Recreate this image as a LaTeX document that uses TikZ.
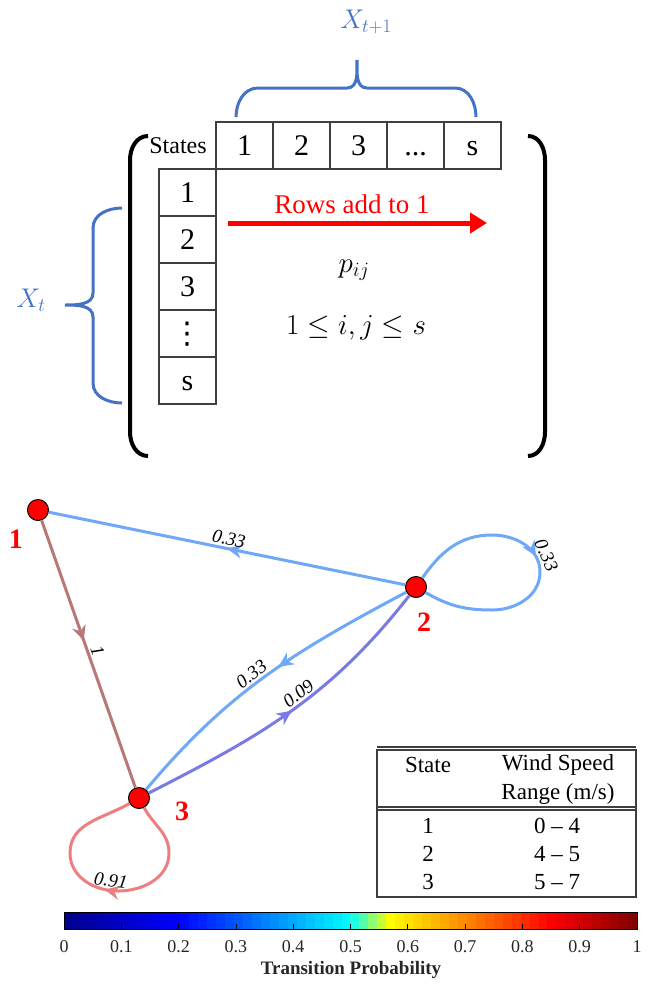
\RequirePackage{fix-cm}
\documentclass[tikz,border=0pt]{standalone}
\usepackage{fontspec}
\setmainfont{Liberation Serif}
\newfontfamily\dotsfont{DejaVu Sans}
\usetikzlibrary{arrows.meta,positioning,decorations.markings}
\definecolor{braceblue}{HTML}{4472C4}
\definecolor{cellgray}{HTML}{3F3F3F}
\definecolor{prob33}{HTML}{6EA8F6}
\definecolor{prob09}{HTML}{7A7AE4}
\definecolor{probone}{HTML}{B87878}
\definecolor{prob91}{HTML}{EC8080}
\definecolor{axisgray}{HTML}{262626}
\tikzset{
  >=Stealth,
  cell/.style={
    rectangle, draw=cellgray, line width=1.3pt, inner sep=0pt, outer sep=0pt,
    minimum width=57pt, minimum height=47pt, text height=20pt, text depth=0pt,
    font=\fontsize{30}{34}\selectfont
  },
  hdrtext/.style={font=\fontsize{24}{28}\selectfont, inner sep=0pt},
  bluelbl/.style={text=braceblue, font=\fontsize{27}{30}\selectfont},
  bluebrace/.style={draw=braceblue, line width=3pt},
  bracket/.style={draw=black, line width=4pt},
  rowarrow/.style={-{Triangle[length=17pt,width=20pt]}, line width=5pt, draw=red},
  rowtext/.style={text=red, font=\fontsize{27}{30}\selectfont},
  mathtext/.style={font=\fontsize{29}{32}\selectfont},
  state/.style={circle, fill=red, draw=black, line width=1pt, minimum size=21pt, inner sep=0pt},
  statelbl/.style={text=red, font=\fontsize{28}{30}\selectfont\bfseries, inner sep=0pt},
  edge/.style={line width=3pt},
  midarrow/.style={postaction={decorate}, decoration={markings,
    mark=at position #1 with {\arrow{Stealth[length=15pt,width=14pt,inset=5pt]}}}},
  problbl/.style={font=\fontsize{19}{21}\selectfont\itshape, text=black, inner sep=2pt},
  tblline/.style={draw=cellgray, line width=1.5pt},
  tbltext/.style={font=\fontsize{23}{29}\selectfont, align=center, inner sep=0pt},
  ticklbl/.style={font=\fontsize{18}{20}\selectfont, text=axisgray, inner sep=0pt}
}

\begin{document}
\begin{tikzpicture}[x=1pt,y=1pt]
\useasboundingbox (0,0) rectangle (657,-986);
% transition matrix
\node[cell] (h1) at (244.5,-145.5) {1};
\node[cell, right=0pt of h1] (h2) {2};
\node[cell, right=0pt of h2] (h3) {3};
\node[cell, right=0pt of h3] (h4) {...};
\node[cell, right=0pt of h4] (h5) {s};
\node[cell, below left=0pt and 0pt of h1] (r1) {1};
\node[cell, below=0pt of r1] (r2) {2};
\node[cell, below=0pt of r2] (r3) {3};
\node[cell, below=0pt of r3] (r4) {\dotsfont ⋮};
\node[cell, below=0pt of r4] (r5) {s};
\node[hdrtext] (states) at (178,-146) {States};
\draw[bracket] (148,-136) to[out=180,in=90] (130,-160) -- (130,-432) to[out=-90,in=180] (148,-456);
\draw[bracket] (528,-136) to[out=0,in=90] (545,-160) -- (545,-432) to[out=-90,in=0] (528,-456);
\draw[bluebrace] (236,-117) to[out=90,in=180] (258,-88) -- (347,-88) to[out=0,in=-90] (357,-60)
  to[out=-90,in=180] (367,-88) -- (455,-88) to[out=0,in=90] (476,-117);
\node[bluelbl] (xnext) at (366,-22) {$X_{t+1}$};
\draw[bluebrace] (122,-208) to[out=180,in=90] (93,-228) -- (93,-293) to[out=-90,in=0] (65,-305)
  to[out=0,in=90] (93,-317) -- (93,-383) to[out=-90,in=180] (122,-403);
\node[bluelbl] (xnow) at (31,-300) {$X_t$};
\coordinate (rowsA) at (228,-223);
\coordinate (rowsB) at (487,-223);
\draw[rowarrow] (rowsA) -- (rowsB);
\node[rowtext] (rowslbl) at (352,-204) {Rows add to 1};
\node[mathtext] (pij) at (354,-270) {$p_{ij}$};
\node[mathtext] (bounds) at (356,-328) {$1\le i,j\le s$};

% Markov chain graph
\node[state] (s1) at (38,-510) {};
\node[state] (s2) at (416,-587) {};
\node[state] (s3) at (139,-798) {};
\node[statelbl] (l1) at (16,-539) {1};
\node[statelbl] (l2) at (424,-622) {2};
\node[statelbl] (l3) at (182,-811) {3};
\draw[edge, prob33, midarrow=0.5] (s2) -- node[problbl, sloped, above] {0.33} (s1);
\draw[edge, probone, midarrow=0.45] (s1) -- node[problbl, sloped, above] {1} (s3);
\draw[edge, prob33, midarrow=0.45] (s2) to[out=208,in=50] node[problbl, sloped, above, pos=0.53] {0.33} (s3);
\draw[edge, prob09, midarrow=0.5] (s3) to[out=27,in=232] node[problbl, sloped, above, pos=0.55] {0.09} (s2);
\draw[edge, prob33, midarrow=0.47] (s2.55) to[out=55,in=180] ([shift={(76,52)}]s2.center)
  to[out=0,in=90] node[problbl, sloped, above, pos=0.8] {0.33} ([shift={(124,15)}]s2.center)
  to[out=-90,in=0] ([shift={(76,-23)}]s2.center) to[out=180,in=-30] (s2.-30);
\draw[edge, prob91, midarrow=0.5] (s3.-62) to[out=-62,in=90] ([shift={(30,-55)}]s3.center)
  to[out=-90,in=0] ([shift={(-21,-93)}]s3.center)
  to[out=180,in=-90] node[problbl, sloped, above, pos=0.12] {0.91} ([shift={(-69,-55)}]s3.center)
  to[out=90,in=-150] (s3.-150);

% wind speed table
\draw[tblline] (377,-747) -- (636,-747);
\draw[tblline] (377,-750) rectangle (636,-897);
\draw[tblline] (377,-807) -- (636,-807);
\draw[tblline] (377,-810) -- (636,-810);
\node[tbltext] (tstate) at (428,-765) {State};
\node[tbltext] (twind) at (558,-779) {Wind Speed\\Range (m/s)};
\node[tbltext] (ts1) at (428,-826) {1};
\node[tbltext] (ts2) at (428,-854) {2};
\node[tbltext] (ts3) at (428,-882) {3};
\node[tbltext] (tw1) at (557,-826) {0 -- 4};
\node[tbltext] (tw2) at (557,-854) {4 -- 5};
\node[tbltext] (tw3) at (557,-882) {5 -- 7};

% colour bar
\foreach \i in {0,...,63} {
  \pgfmathsetmacro{\cbx}{(\i+0.5)/64}
  \pgfmathsetmacro{\cbr}{\cbx<0.5 ? 0 : (\cbx<0.57 ? (\cbx-0.5)/0.07 : (\cbx<0.85 ? 1 : 1-0.5*(\cbx-0.85)/0.15))}
  \pgfmathsetmacro{\cbg}{\cbx<0.2 ? 0 : (\cbx<0.5 ? (\cbx-0.2)/0.3 : (\cbx<0.57 ? 1 : (\cbx<0.85 ? 1-(\cbx-0.57)/0.28 : 0)))}
  \pgfmathsetmacro{\cbb}{\cbx<0.2 ? 0.55+0.45*\cbx/0.2 : (\cbx<0.5 ? 1 : (\cbx<0.57 ? 1-(\cbx-0.5)/0.07 : 0))}
  \definecolor{cbcol}{rgb}{\cbr,\cbg,\cbb}
  \pgfmathsetmacro{\cbl}{64+\i*8.953}
  \fill[cbcol] (\cbl,-912) rectangle (\cbl+9.1,-929);
}
\draw[black, line width=1pt] (64,-912) rectangle (637,-929);
\foreach \k in {0,...,10} {
  \pgfmathsetmacro{\tkx}{64+57.3*\k}
  \draw[black, line width=0.8pt] (\tkx,-929) -- (\tkx,-924);
  \node[ticklbl] (tick\k) at (\tkx,-947) {\ifnum\k=0 0\else\ifnum\k=10 1\else 0.\k\fi\fi};
}
\node[ticklbl, font=\fontsize{19}{21}\selectfont\bfseries] (cbtitle) at (351,-970) {Transition Probability};
\end{tikzpicture}
\end{document}
